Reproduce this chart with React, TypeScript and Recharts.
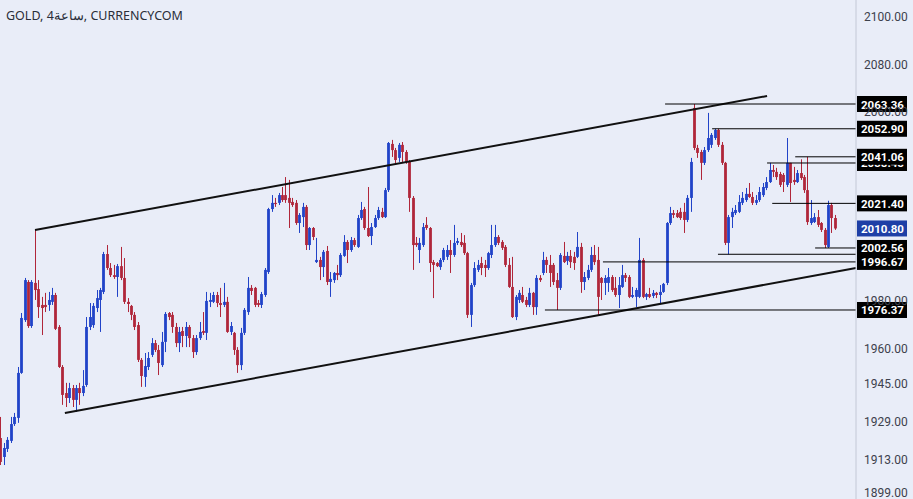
import React from 'react';
import { ComposedChart, Bar, XAxis, YAxis, ReferenceLine } from 'recharts';

// 4h GOLD candles (oldest first)
const opens = [
  1922.3, 1914.3, 1917.7, 1921.1, 1928.2, 1930.8, 1949.8, 1972.1, 1988.2, 1969.6,
  1987.8, 1985.2, 1978.5, 1978.5, 1978.5, 1979.8, 1982.7, 1969.2, 1952.3, 1941.3,
  1939.2, 1943.4, 1938.4, 1943.4, 1941.3, 1944.7, 1969.2, 1970.0, 1977.2, 1980.6,
  1984.0, 2000.0, 1994.1, 1991.1, 1990.3, 1994.9, 1989.9, 1979.8, 1978.1, 1974.3,
  1970.0, 1955.3, 1948.1, 1952.3, 1957.4, 1962.4, 1959.5, 1953.1, 1962.9, 1975.1,
  1974.3, 1969.2, 1962.4, 1967.5, 1965.4, 1969.2, 1964.5, 1958.6, 1964.5, 1967.5,
  1966.7, 1979.8, 1979.8, 1982.7, 1979.3, 1978.5, 1979.8, 1967.1, 1966.7, 1959.5,
  1953.1, 1966.7, 1975.5, 1985.7, 1985.7, 1979.3, 1978.5, 1982.7, 1992.4, 2019.0,
  2021.6, 2021.6, 2024.9, 2024.9, 2023.7, 2022.0, 2021.6, 2013.1, 2015.6, 2019.9,
  2003.8, 2011.0, 1996.6, 1997.5, 1994.5, 2001.3, 1988.2, 1989.0, 1992.0, 1991.1,
  1999.2, 2005.1, 2001.7, 2005.9, 2003.0, 2015.2, 2019.0, 2011.0, 2007.6, 2011.4,
  2015.2, 2017.8, 2015.6, 2027.0, 2046.5, 2043.9, 2040.6, 2046.1, 2043.1, 2038.9,
  2023.7, 2004.7, 2001.7, 2003.8, 2012.3, 2011.0, 1996.6, 1996.2, 1994.5, 1997.5,
  1998.8, 2001.7, 1999.6, 2004.7, 2005.1, 2004.7, 2000.4, 1974.3, 1986.9, 1993.3,
  1996.2, 1995.4, 1994.1, 1999.6, 2003.8, 2007.2, 2005.1, 2003.0, 1995.4, 1986.1,
  1973.4, 1980.6, 1982.7, 1980.6, 1978.5, 1983.6, 1977.6, 1989.9, 1992.0, 1997.5,
  1995.4, 1995.4, 1989.0, 1985.7, 1999.2, 1997.1, 1999.2, 1998.8, 1998.8, 2003.0,
  1988.2, 1989.9, 1993.3, 1999.6, 1997.5, 1989.9, 1987.8, 1987.8, 1990.3, 1985.7,
  1982.7, 1986.1, 1991.1, 1990.3, 1981.9, 1981.9, 1981.9, 1997.5, 1981.9, 1983.1,
  1982.3, 1983.6, 1982.7, 1984.0, 1987.8, 2013.1, 2017.3, 2017.3, 2017.8, 2017.8,
  2014.4, 2023.7, 2061.7, 2044.8, 2043.1, 2038.5, 2043.9, 2046.1, 2049.0, 2052.4,
  2046.1, 2038.5, 2004.7, 2015.6, 2017.3, 2017.8, 2021.6, 2022.8, 2025.4, 2024.1,
  2021.6, 2022.8, 2024.9, 2027.9, 2030.4, 2035.5, 2034.7, 2033.8, 2033.4, 2029.2,
  2038.5, 2031.3, 2030.4, 2034.2, 2032.5, 2027.0, 2013.1, 2013.5, 2015.6, 2013.1,
  2010.2, 2003.0, 2020.7, 2015.2,
];

const highs = [
  1931.2, 1920.2, 1922.7, 1931.2, 1932.9, 1952.3, 1975.1, 1989.9, 1989.0, 1989.0,
  2010.2, 1989.0, 1981.9, 1983.6, 1984.0, 1985.7, 1983.6, 1970.0, 1953.1, 1945.6,
  1945.6, 1944.7, 1944.7, 1945.6, 1951.0, 1973.4, 1979.3, 1979.3, 1984.8, 1985.7,
  2000.9, 2003.8, 1996.2, 1995.4, 1995.8, 2003.0, 1998.3, 1981.4, 1978.5, 1975.5,
  1971.3, 1956.1, 1958.2, 1958.6, 1964.5, 1963.7, 1961.6, 1967.1, 1975.5, 1975.5,
  1975.5, 1970.9, 1969.2, 1969.2, 1971.3, 1970.0, 1965.8, 1965.8, 1971.3, 1975.5,
  1984.0, 1983.6, 1984.0, 1984.0, 1985.7, 1987.8, 1981.9, 1971.3, 1967.1, 1960.7,
  1968.8, 1977.2, 1990.3, 1986.9, 1986.1, 1980.6, 1984.0, 1994.1, 2019.5, 2024.9,
  2023.7, 2025.8, 2028.3, 2032.5, 2031.3, 2023.7, 2022.8, 2017.3, 2021.6, 2020.7,
  2011.4, 2011.4, 2006.8, 1998.8, 2001.7, 2003.4, 1992.4, 1992.4, 1995.4, 2000.4,
  2008.0, 2005.9, 2007.2, 2006.8, 2016.5, 2022.0, 2019.9, 2028.3, 2013.1, 2016.5,
  2019.9, 2019.5, 2027.9, 2047.3, 2048.2, 2044.8, 2046.9, 2047.3, 2043.9, 2039.7,
  2024.5, 2007.2, 2006.8, 2013.1, 2015.6, 2011.4, 1997.5, 1996.6, 1998.3, 2002.6,
  2003.8, 2005.9, 2012.3, 2006.8, 2008.9, 2008.0, 2000.9, 1987.8, 1996.6, 1997.5,
  1998.8, 1997.5, 2000.9, 2012.3, 2012.3, 2008.0, 2005.9, 2003.8, 1998.3, 1998.8,
  1982.7, 1984.8, 1986.1, 1981.9, 1985.7, 1984.0, 1991.1, 1991.1, 2000.9, 1998.8,
  1999.6, 1996.2, 1992.0, 2000.4, 2005.1, 2000.9, 2001.7, 2000.9, 2009.3, 2004.7,
  1992.4, 1995.4, 2003.0, 2003.8, 2003.0, 1990.3, 1991.1, 1994.1, 1991.1, 1990.3,
  1990.3, 1995.4, 1992.0, 1991.1, 1986.1, 1985.7, 2006.8, 1998.3, 1983.6, 1985.7,
  1984.8, 1984.0, 1986.9, 1987.8, 2013.5, 2019.9, 2018.6, 2018.6, 2019.5, 2021.6,
  2024.9, 2040.6, 2063.36, 2046.1, 2044.0, 2045.2, 2059.6, 2051.1, 2052.9, 2052.9,
  2047.3, 2038.9, 2016.5, 2019.5, 2020.7, 2024.9, 2026.2, 2027.9, 2030.0, 2026.2,
  2024.9, 2028.3, 2030.0, 2032.5, 2038.5, 2037.6, 2036.4, 2034.7, 2034.2, 2049.0,
  2038.5, 2036.8, 2035.5, 2040.0, 2033.4, 2041.06, 2022.8, 2017.3, 2018.6, 2013.5,
  2011.0, 2022.5, 2021.6, 2016.5,
];

const lows = [
  1910.9, 1910.9, 1916.4, 1920.2, 1927.4, 1928.7, 1949.4, 1971.3, 1968.8, 1968.8,
  1980.6, 1973.0, 1965.8, 1975.5, 1976.0, 1978.5, 1967.9, 1951.9, 1936.3, 1935.4,
  1937.1, 1935.4, 1933.3, 1936.3, 1940.0, 1943.9, 1967.9, 1968.8, 1975.5, 1967.1,
  1983.1, 1993.3, 1990.3, 1989.5, 1981.9, 1989.0, 1978.9, 1975.5, 1972.1, 1967.9,
  1954.4, 1943.9, 1943.9, 1951.0, 1956.5, 1958.6, 1948.9, 1952.3, 1958.6, 1972.1,
  1966.7, 1960.7, 1958.6, 1960.7, 1960.7, 1960.7, 1956.1, 1957.4, 1963.7, 1965.8,
  1963.7, 1977.6, 1979.3, 1977.6, 1973.4, 1977.6, 1966.7, 1965.8, 1957.4, 1949.8,
  1951.0, 1965.8, 1974.3, 1982.7, 1977.6, 1977.6, 1977.2, 1981.9, 1991.6, 2017.8,
  2019.9, 2020.7, 2022.0, 2021.6, 2011.0, 2019.9, 2012.3, 2008.9, 2011.4, 2001.7,
  2001.7, 2005.9, 1996.2, 1989.0, 1990.3, 1986.9, 1981.9, 1987.8, 1989.0, 1990.3,
  1998.8, 1996.2, 2000.9, 2003.0, 2002.6, 2014.4, 2010.2, 2007.2, 2003.8, 2011.0,
  2014.4, 2015.2, 2015.2, 2026.2, 2041.0, 2037.6, 2038.9, 2038.9, 2038.1, 2017.8,
  1993.3, 2003.0, 1996.2, 2003.0, 2010.2, 1992.4, 1981.4, 1994.5, 1993.3, 1996.6,
  1997.5, 1992.0, 1998.8, 2003.8, 2003.0, 1999.6, 1973.0, 1969.2, 1986.1, 1992.4,
  1991.1, 1990.3, 1993.3, 1998.3, 2003.0, 2003.8, 2001.7, 1994.5, 1985.7, 1973.0,
  1972.1, 1979.3, 1979.3, 1977.6, 1977.6, 1974.3, 1974.3, 1988.2, 1991.1, 1992.0,
  1986.1, 1986.9, 1976.37, 1984.8, 1996.2, 1995.4, 1994.1, 1993.3, 1998.3, 1983.6,
  1984.8, 1989.0, 1992.4, 1995.4, 1974.3, 1980.6, 1982.7, 1984.0, 1984.0, 1981.9,
  1977.2, 1985.7, 1988.2, 1981.4, 1981.4, 1977.6, 1981.4, 1981.4, 1980.6, 1981.4,
  1981.4, 1981.4, 1979.3, 1983.6, 1986.9, 2012.3, 2015.2, 2015.2, 2014.4, 2008.9,
  2013.5, 2017.8, 2043.9, 2040.6, 2031.3, 2037.6, 2043.1, 2044.8, 2048.2, 2045.2,
  2037.6, 2003.8, 1999.9, 2011.0, 2016.5, 2017.3, 2020.7, 2022.0, 2023.7, 2020.7,
  2020.7, 2022.0, 2024.1, 2027.0, 2030.0, 2032.5, 2031.3, 2028.3, 2026.2, 2028.3,
  2022.0, 2029.2, 2030.0, 2031.3, 2025.8, 2012.3, 2012.3, 2013.1, 2011.4, 2009.3,
  2002.56, 2002.56, 2008.9, 2010.2,
];

const closes = [
  1912.2, 1918.1, 1921.5, 1928.2, 1931.2, 1949.8, 1973.0, 1989.0, 1969.6, 1988.2,
  1984.8, 1977.6, 1977.2, 1977.6, 1980.6, 1982.7, 1968.4, 1952.3, 1940.5, 1939.2,
  1943.4, 1938.4, 1943.4, 1941.3, 1944.3, 1969.2, 1973.4, 1978.1, 1981.4, 1984.8,
  2000.0, 1994.1, 1991.1, 1990.3, 1994.9, 1989.9, 1979.8, 1978.9, 1974.3, 1969.2,
  1955.3, 1948.5, 1952.7, 1956.1, 1962.4, 1959.5, 1954.0, 1962.9, 1974.7, 1973.4,
  1969.2, 1962.4, 1967.1, 1965.4, 1969.2, 1964.5, 1958.6, 1964.5, 1967.1, 1966.7,
  1980.2, 1980.6, 1982.7, 1979.3, 1978.5, 1979.8, 1967.1, 1969.6, 1959.5, 1953.1,
  1966.7, 1976.4, 1985.7, 1984.4, 1978.5, 1978.5, 1983.1, 1993.3, 2019.0, 2021.6,
  2021.1, 2024.9, 2022.8, 2022.8, 2021.6, 2020.7, 2013.1, 2016.5, 2019.9, 2003.8,
  2011.0, 2007.2, 1997.5, 1994.5, 2000.9, 1988.2, 1989.5, 1992.0, 1991.1, 1999.6,
  2005.1, 2001.7, 2005.9, 2003.8, 2015.2, 2018.6, 2011.0, 2007.6, 2011.4, 2015.2,
  2018.6, 2015.6, 2027.0, 2046.9, 2043.9, 2039.7, 2046.1, 2043.1, 2038.9, 2023.7,
  2003.8, 2003.8, 2004.7, 2011.4, 2011.0, 1996.2, 1995.4, 1994.9, 1997.5, 2001.7,
  2001.7, 1999.6, 2004.7, 2005.5, 2003.8, 2000.4, 1974.3, 1986.9, 1994.1, 1995.4,
  1994.1, 1994.1, 2000.4, 2003.8, 2007.2, 2004.7, 2002.6, 1995.4, 1986.1, 1973.4,
  1981.9, 1983.6, 1979.8, 1978.5, 1983.6, 1977.6, 1989.9, 1989.0, 1997.5, 1995.4,
  1992.0, 1988.2, 1985.7, 1999.6, 1996.6, 1999.2, 1996.6, 1996.2, 2003.0, 1988.2,
  1990.3, 1993.3, 1999.6, 1996.6, 1981.9, 1987.8, 1989.9, 1990.3, 1984.8, 1982.7,
  1986.9, 1991.1, 1989.9, 1981.9, 1982.7, 1984.8, 1997.5, 1981.9, 1983.1, 1981.9,
  1983.6, 1982.7, 1984.0, 1987.4, 2013.1, 2017.3, 2016.5, 2015.6, 2015.2, 2014.4,
  2023.7, 2038.9, 2044.8, 2042.7, 2038.5, 2043.9, 2049.0, 2050.3, 2052.4, 2046.1,
  2038.5, 2004.7, 2015.6, 2017.8, 2018.6, 2022.0, 2023.7, 2025.4, 2024.1, 2021.6,
  2022.8, 2026.2, 2028.3, 2030.4, 2035.5, 2034.7, 2032.5, 2029.2, 2030.4, 2038.5,
  2030.0, 2030.4, 2034.2, 2032.1, 2027.0, 2013.5, 2015.2, 2015.6, 2012.3, 2010.2,
  2003.8, 2020.7, 2015.2, 2010.8,
];

// channel trendlines, anchors as [bar index, price]
const upperChannel = [
  { x: 10.0, y: 2010.15 },
  { x: 223.2, y: 2066.74 },
];
const lowerChannel = [
  { x: 18.7, y: 1932.87 },
  { x: 249.1, y: 1994.1 },
];

// horizontal levels (the first two sit under their neighbours' tags)
const levelPrices = [2038.45, 1999.9, 2063.36, 2052.9, 2041.06, 2021.4, 2002.56, 1996.67, 1976.37];
const levelStarts = [223.2, 208.9, 193.5, 207.2, 231.4, 224.7, 237.2, 175.4, 158.5];

const yTicks = [2100, 2080, 2060, 1980, 1960, 1945, 1929, 1913, 1899];

const X_MIN = -0.2;
const X_MAX = 249.1;
const BLUE = '#2143c8';
const RED = '#b0263a';
const BG = '#e9edf8';
const FONT = 'Roboto, "Noto Sans", sans-serif';

const candles = opens.map((o, i) => ({
  i,
  open: o,
  high: highs[i],
  low: lows[i],
  close: closes[i],
}));

const lastClose = closes[closes.length - 1];

const Candle = (props: any) => {
  const { x, y, width, height, payload } = props;
  if (!payload || x == null) return null;
  const { open, close, high, low } = payload;
  const top = Math.min(y, y + height);
  const h = Math.abs(height);
  const span = high - low || 1;
  const py = (v: number) => top + ((high - v) / span) * h;
  const cx = Math.round(x + width / 2) + 0.5;
  const color = close >= open ? BLUE : RED;
  const bTop = py(Math.max(open, close));
  const bH = Math.max(1, py(Math.min(open, close)) - bTop);
  return (
    <g>
      <line x1={cx} x2={cx} y1={top} y2={top + h} stroke={color} strokeWidth={1} />
      <rect x={cx - 1.4} y={bTop} width={2.8} height={bH} fill={color} />
    </g>
  );
};

const AxisTick = (props: any) => {
  const { x, y, payload } = props;
  return (
    <text x={x} y={y} dy={4} textAnchor="start" fontSize={12} fill="#3d414c" fontFamily={FONT}>
      {Number(payload.value).toFixed(2)}
    </text>
  );
};

const priceTag = (text: string, bg: string) => (props: any) => {
  const vb = props.viewBox;
  if (!vb) return null;
  const right = vb.x + vb.width;
  const y = vb.y;
  return (
    <g>
      <rect x={right + 1} y={y - 8} width={50} height={16} fill={bg} />
      <text x={right + 5} y={y + 4.5} fontSize={11.5} fontWeight={700} fill="#ffffff" fontFamily={FONT}>
        {text}
      </text>
    </g>
  );
};

export default function App() {
  return (
    <div style={{ position: 'absolute', left: 0, top: 0, width: 913, height: 499, background: BG }}>
      <ComposedChart
        width={913}
        height={499}
        data={candles}
        margin={{ top: 0, right: 0, bottom: 0, left: 0 }}
      >
        <XAxis dataKey="i" type="number" domain={[X_MIN, X_MAX]} allowDataOverflow hide />
        <YAxis
          orientation="right"
          width={57}
          domain={[1896.55, 2107.28]}
          allowDataOverflow
          ticks={yTicks}
          interval={0}
          tickLine={false}
          axisLine={{ stroke: '#c3c8d6' }}
          tick={<AxisTick />}
        />
        <Bar
          dataKey={(d: any) => [d.low, d.high]}
          shape={<Candle />}
          barSize={3}
          isAnimationActive={false}
        />
        <ReferenceLine segment={upperChannel} stroke="#111" strokeWidth={2} ifOverflow="visible" />
        <ReferenceLine segment={lowerChannel} stroke="#111" strokeWidth={2} ifOverflow="visible" />
        {levelPrices.map((p, k) => (
          <ReferenceLine
            key={'lv' + k}
            segment={[
              { x: levelStarts[k], y: p },
              { x: X_MAX, y: p },
            ]}
            stroke="#000"
            strokeWidth={1}
            ifOverflow="visible"
            label={priceTag(p.toFixed(2), '#000000')}
          />
        ))}
        <ReferenceLine
          y={lastClose}
          stroke="none"
          ifOverflow="visible"
          label={priceTag(lastClose.toFixed(2), '#1e3fa6')}
        />
      </ComposedChart>
      <div
        style={{
          position: 'absolute',
          left: 6,
          top: 7,
          fontSize: 12.5,
          color: '#2a2e39',
          fontFamily: '"Noto Sans", sans-serif',
          whiteSpace: 'nowrap',
        }}
      >
        GOLD, 4ساعة, CURRENCYCOM
      </div>
    </div>
  );
}
